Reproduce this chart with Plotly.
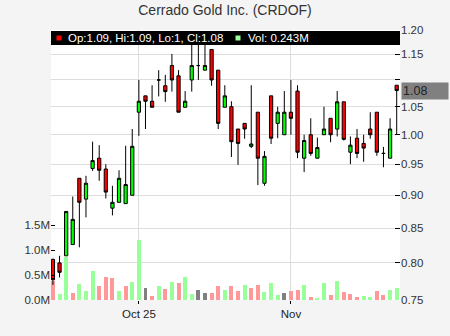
import numpy as np
import plotly.graph_objects as go

# ---------------- data ----------------
dates = [
    "2025-09-12", "2025-09-15", "2025-09-16", "2025-09-17", "2025-09-18", "2025-09-19",
    "2025-09-22", "2025-09-23", "2025-09-24", "2025-09-25", "2025-09-26",
    "2025-09-29", "2025-09-30",
    "2025-10-01", "2025-10-02", "2025-10-03",
    "2025-10-06", "2025-10-07", "2025-10-08", "2025-10-09", "2025-10-10",
    "2025-10-13", "2025-10-14", "2025-10-15", "2025-10-16", "2025-10-17",
    "2025-10-20", "2025-10-21", "2025-10-22", "2025-10-23", "2025-10-24",
    "2025-10-27", "2025-10-28", "2025-10-29", "2025-10-30", "2025-10-31",
    "2025-11-03", "2025-11-04", "2025-11-05", "2025-11-06", "2025-11-07",
    "2025-11-10", "2025-11-11", "2025-11-12", "2025-11-13", "2025-11-14",
    "2025-11-17", "2025-11-18", "2025-11-19", "2025-11-20", "2025-11-21",
    "2025-11-24", "2025-11-25",
]
opens = [0.805, 0.800, 0.810, 0.826, 0.927, 0.894, 0.943, 0.960, 0.942, 0.880,
         0.889, 0.887, 0.900, 1.040, 1.070, 1.060, 1.100, 1.089, 1.128, 1.108,
         1.049, 1.100, 1.128, 1.119, 1.160, 1.119, 1.049, 1.050, 1.010, 1.020,
         0.980, 1.040, 0.919, 1.070, 1.020, 1.000, 1.040, 1.079, 0.960, 1.000,
         0.960, 1.000, 1.029, 1.010, 1.059, 0.970, 0.994, 0.985, 1.010, 1.040,
         0.968, 0.960, 1.090]
highs = [0.806, 0.810, 0.875, 0.898, 0.927, 0.931, 0.988, 0.982, 0.950, 0.915,
         0.940, 0.981, 1.010, 1.100, 1.070, 1.090, 1.119, 1.110, 1.151, 1.119,
         1.079, 1.175, 1.175, 1.175, 1.160, 1.119, 1.090, 1.060, 1.010, 1.020,
         1.090, 1.040, 0.972, 1.070, 1.050, 1.079, 1.100, 1.090, 1.000, 1.029,
         0.995, 1.050, 1.029, 1.079, 1.059, 0.997, 1.010, 1.000, 1.040, 1.040,
         0.979, 1.029, 1.090]
lows = [0.770, 0.780, 0.810, 0.826, 0.822, 0.866, 0.939, 0.923, 0.895, 0.869,
        0.889, 0.887, 0.900, 0.998, 1.010, 1.049, 1.069, 1.059, 1.078, 1.040,
        1.049, 1.078, 1.100, 1.119, 1.089, 1.010, 1.049, 0.962, 0.949, 0.993,
        0.977, 0.916, 0.915, 0.984, 0.994, 1.000, 1.000, 0.960, 0.937, 0.964,
        0.960, 1.000, 0.987, 0.997, 0.990, 0.950, 0.960, 0.954, 0.993, 0.964,
        0.945, 0.960, 1.000]
closes = [0.777, 0.787, 0.875, 0.863, 0.889, 0.919, 0.956, 0.940, 0.905, 0.889,
          0.927, 0.917, 0.980, 1.060, 1.060, 1.049, 1.100, 1.078, 1.100, 1.040,
          1.060, 1.128, 1.128, 1.128, 1.100, 1.020, 1.070, 0.988, 0.985, 1.010,
          0.984, 0.960, 0.963, 0.994, 1.040, 1.040, 1.029, 0.970, 0.990, 0.968,
          0.978, 1.010, 1.000, 1.059, 0.992, 0.982, 0.968, 0.977, 1.000, 0.970,
          0.968, 1.010, 1.080]
volumes_m = [0.39, 0.13, 0.87, 0.15, 0.32, 0.18, 0.58, 0.28, 0.47, 0.45,
             0.19, 0.28, 0.36, 1.21, 0.25, 0.09, 0.29, 0.23, 0.37, 0.35,
             0.47, 0.12, 0.21, 0.15, 0.15, 0.29, 0.21, 0.29, 0.19, 0.31,
             0.25, 0.31, 0.17, 0.35, 0.11, 0.15, 0.19, 0.21, 0.31, 0.07,
             0.05, 0.34, 0.11, 0.39, 0.16, 0.12, 0.07, 0.09, 0.07, 0.18,
             0.11, 0.21, 0.243]

price_ticks = [0.75, 0.80, 0.85, 0.90, 0.95, 1.00, 1.05, 1.10, 1.15, 1.20]
price_labels = ["0.75", "0.80", "0.85", "0.90", "0.95", "1.00", "1.05", "", "1.15", "1.20"]
vol_ticks = [0, 0.5, 1.0, 1.5]
vol_labels = ["0.0M", "0.5M", "1.0M", "1.5M"]
date_ticks = ["2025-10-01", "2025-11-03"]
date_labels = ["Oct 25", "Nov"]

title = "Cerrado Gold Inc. (CRDOF)"
info_text = "Op:1.09, Hi:1.09, Lo:1, Cl:1.08"
vol_text = "Vol: 0.243M"
last_label = "1.08"

# ---------------- styling ----------------
FONT = "Liberation Sans, Arial, sans-serif"
GREEN = "#00ff00"
RED = "#ff0000"
VGREEN = "#99ff99"
VRED = "#ff9999"
VGRAY = "#808080"

prev = [opens[0]] + closes[:-1]
vol_colors = [VGREEN if c > p else (VRED if c < p else VGRAY) for c, p in zip(closes, prev)]

fig = go.Figure()
fig.add_trace(go.Bar(
    x=dates, y=volumes_m, marker=dict(color=vol_colors, line=dict(width=0)),
    width=0.6 * 86400000, yaxis="y", hoverinfo="skip",
))
fig.add_trace(go.Candlestick(
    x=dates, open=opens, high=highs, low=lows, close=closes, yaxis="y2",
    increasing=dict(fillcolor=GREEN, line=dict(color="black", width=1)),
    decreasing=dict(fillcolor=RED, line=dict(color="black", width=1)),
    whiskerwidth=0,
))

# banner
shapes = [
    dict(type="rect", xref="paper", yref="paper", x0=0, x1=1,
         y0=(300 - 45) / 270, y1=(300 - 31) / 270,
         fillcolor="black", line=dict(width=0), layer="above"),
    dict(type="rect", xref="paper", yref="paper",
         x0=(56.5 - 51) / 349, x1=(61.5 - 51) / 349,
         y0=(300 - 40.5) / 270, y1=(300 - 35.5) / 270,
         fillcolor=RED, line=dict(width=0), layer="above"),
    dict(type="rect", xref="paper", yref="paper",
         x0=(235.5 - 51) / 349, x1=(240.5 - 51) / 349,
         y0=(300 - 40.5) / 270, y1=(300 - 35.5) / 270,
         fillcolor=VGREEN, line=dict(width=0), layer="above"),
]
annotations = [
    dict(text=info_text, xref="paper", yref="paper", x=(66 - 51) / 349,
         y=(300 - 38) / 270, xanchor="left", yanchor="middle", showarrow=False,
         font=dict(family=FONT, size=11.5, color="white")),
    dict(text=vol_text, xref="paper", yref="paper", x=(245.5 - 51) / 349,
         y=(300 - 38) / 270, xanchor="left", yanchor="middle", showarrow=False,
         font=dict(family=FONT, size=11.5, color="white")),
    dict(text=last_label, xref="paper", yref="y2", x=1, xshift=1,
         y=np.log10(closes[-1]), xanchor="left", yanchor="middle", showarrow=False,
         bgcolor="#808080", width=44, align="left", borderpad=1,
         font=dict(family=FONT, size=12.5, color="#222222")),
]

fig.update_layout(
    width=450, height=336,
    margin=dict(l=51, r=50, t=30, b=36, pad=0),
    paper_bgcolor="#f4f4f4", plot_bgcolor="white",
    showlegend=False,
    font=dict(family=FONT, size=11, color="#333333"),
    title=dict(text=title, x=0.5, xanchor="center", y=1 - 10 / 336, yanchor="middle",
               yref="container", font=dict(family=FONT, size=14, color="#333333")),
    xaxis=dict(
        type="date", range=["2025-09-11 17:00", "2025-11-25 12:00"],
        rangebreaks=[dict(bounds=["sat", "mon"])],
        rangeslider=dict(visible=False),
        tickmode="array", tickvals=date_ticks, ticktext=date_labels,
        showgrid=True, gridcolor="#dddddd", gridwidth=1,
        ticks="outside", ticklen=3, tickcolor="black",
        showline=False, zeroline=False,
        tickfont=dict(family=FONT, size=11.5, color="#222222"),
    ),
    yaxis=dict(
        range=[0, 5.4], side="left", tickmode="array",
        tickvals=vol_ticks, ticktext=vol_labels,
        ticks="inside", ticklen=4, tickcolor="black",
        showgrid=False, zeroline=False, showline=False,
        tickfont=dict(family=FONT, size=11.5, color="#333333"),
    ),
    yaxis2=dict(
        overlaying="y", side="right", type="log",
        range=[np.log10(0.75), np.log10(1.2)],
        tickmode="array", tickvals=price_ticks, ticktext=price_labels,
        ticks="inside", ticklen=5, tickcolor="black",
        showgrid=True, gridcolor="#dddddd", gridwidth=1,
        zeroline=False, showline=False,
        tickfont=dict(family=FONT, size=11.5, color="#333333"),
    ),
    shapes=shapes, annotations=annotations,
    bargap=0,
)

fig.write_html("out.html")
